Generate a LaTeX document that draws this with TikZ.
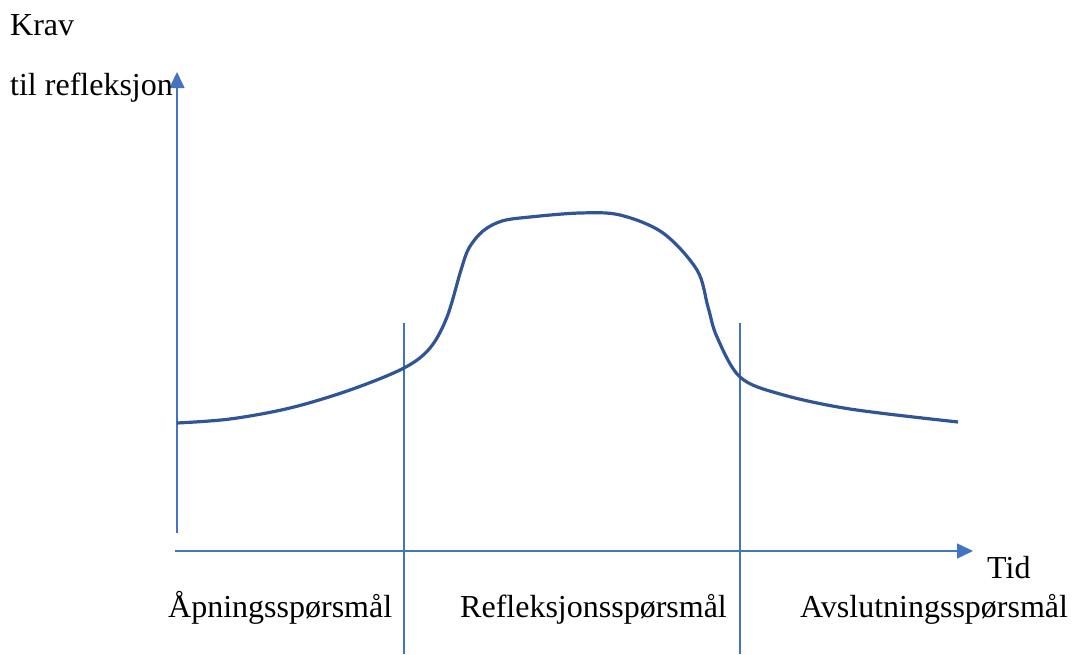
\documentclass[tikz,border=0pt]{standalone}
\usepackage{fontspec}
\setmainfont{Liberation Serif}
\usetikzlibrary{arrows.meta}
\definecolor{axisblue}{HTML}{4472C4}
\definecolor{curveblue}{HTML}{2F5597}
\begin{document}
\begin{tikzpicture}[x=1pt,y=-1pt,
  axis/.style={draw=axisblue,line width=1.5pt},
  axarrow/.style={axis,-{Triangle[length=16pt,width=15pt]}},
  divider/.style={draw=axisblue,line width=1.5pt},
  curve/.style={draw=curveblue,line width=3.2pt},
  lbl/.style={inner sep=0pt,anchor=base west,font=\fontsize{32}{38}\selectfont}]
\useasboundingbox (0,0) rectangle (1072,654);
% axes
\coordinate (yo) at (177,533);
\coordinate (ytip) at (177,72);
\coordinate (xo) at (175,551);
\coordinate (xtip) at (973,551);
\draw[axarrow] (yo) -- (ytip);
\draw[axarrow] (xo) -- (xtip);
% dividers
\coordinate (d1t) at (404,323);
\coordinate (d1b) at (404,654);
\coordinate (d2t) at (740,323);
\coordinate (d2b) at (740,654);
\draw[divider] (d1t) -- (d1b);
\draw[divider] (d2t) -- (d2b);
% curve
\draw[curve] plot[smooth,tension=0.55] coordinates {
  (177,423) (230,419) (290,408) (350,390) (404,368) (430,348) (447,317)
  (461,270) (469,248) (483,231) (502,221) (530,217) (580,213) (620,215) (663,233)
  (697,270) (708,307) (717,337) (740,377) (780,394) (850,409) (958,422)};
% labels
\node[lbl] (krav) at (10,35) {Krav};
\node[lbl] (til) at (10,95) {til refleksjon};
\node[lbl] (tid) at (987,578) {Tid};
\node[lbl] (aapn) at (168,617) {Åpningsspørsmål};
\node[lbl] (refl) at (460,617) {Refleksjonsspørsmål};
\node[lbl] (avsl) at (800,617) {Avslutningsspørsmål};
\end{tikzpicture}
\end{document}
